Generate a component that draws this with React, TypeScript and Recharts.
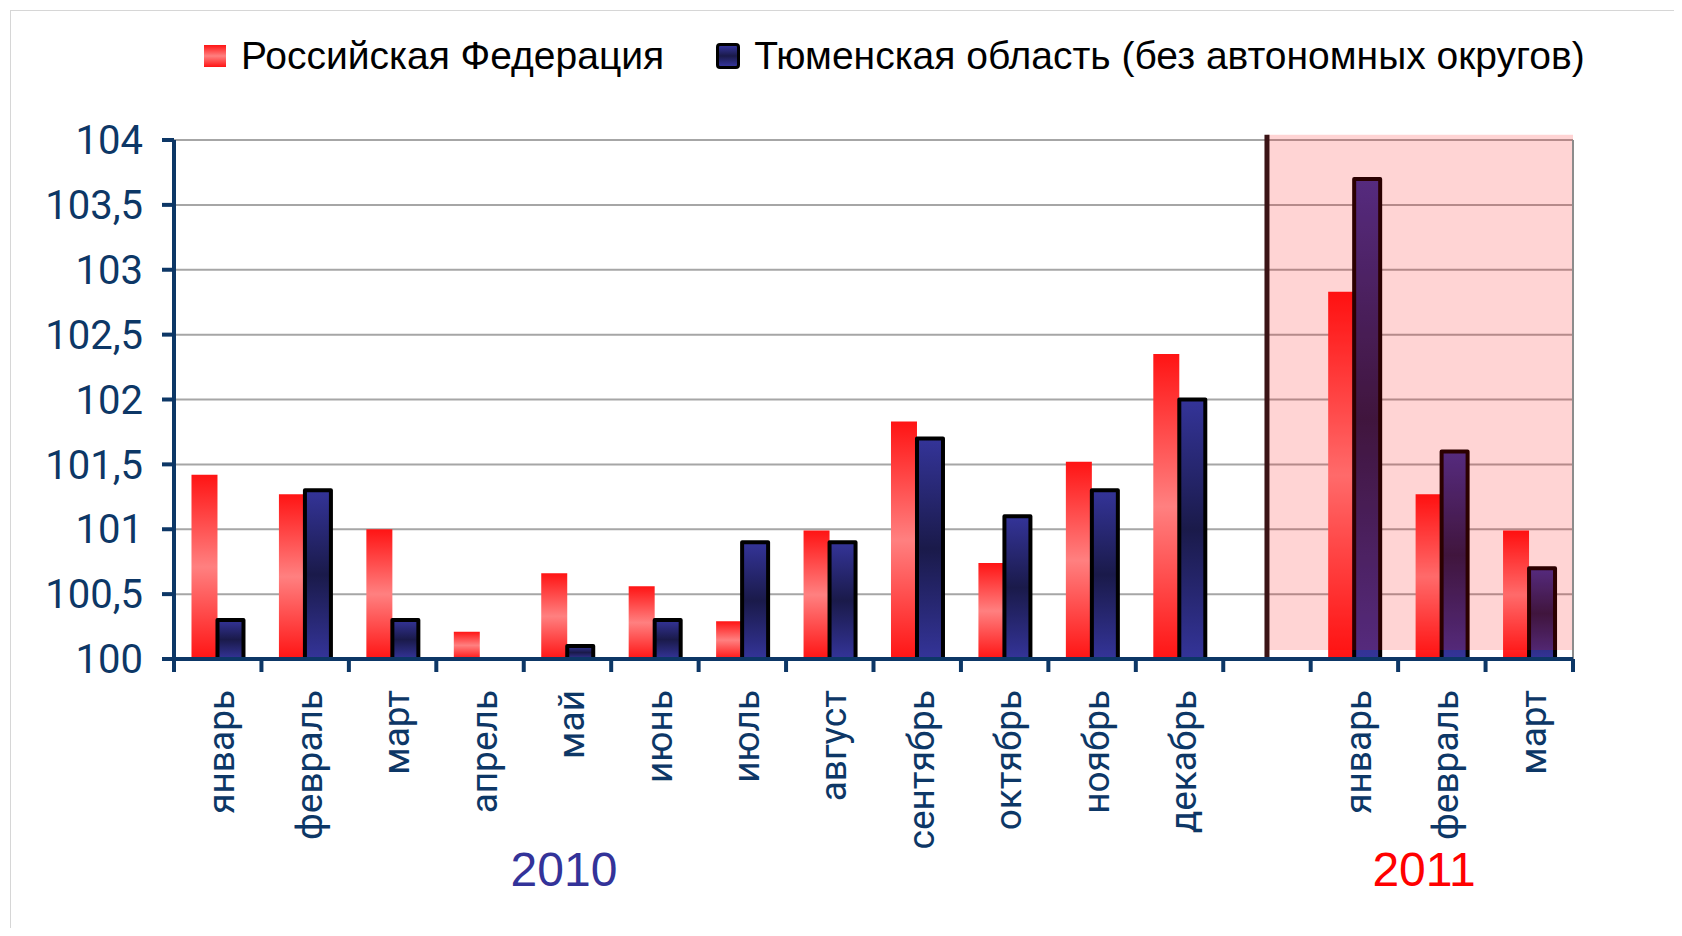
import {
  Bar,
  BarChart,
  CartesianGrid,
  ReferenceArea,
  ReferenceLine,
  XAxis,
  YAxis,
} from 'recharts'

const months2010 = [
  'январь', 'февраль', 'март', 'апрель', 'май', 'июнь',
  'июль', 'август', 'сентябрь', 'октябрь', 'ноябрь', 'декабрь',
]
const months2011 = ['январь', 'февраль', 'март']

const russia2010 = [101.42, 101.27, 101.0, 100.21, 100.66, 100.56, 100.29, 100.99, 101.83, 100.74, 101.52, 102.35]
const tyumen2010 = [100.3, 101.3, 100.3, null, 100.1, 100.3, 100.9, 100.9, 101.7, 101.1, 101.3, 102.0]
const russia2011 = [102.83, 101.27, 100.99]
const tyumen2011 = [103.7, 101.6, 100.7]

const yTicks = [100, 100.5, 101, 101.5, 102, 102.5, 103, 103.5, 104]

const NAVY = '#0d3766'

const data = [
  ...months2010.map((m, i) => ({ key: `a${i}`, label: m, rf: russia2010[i], to: tyumen2010[i] })),
  { key: 'gap', label: '', rf: null, to: null },
  ...months2011.map((m, i) => ({ key: `b${i}`, label: m, rf: russia2011[i], to: tyumen2011[i] })),
].map((d, i) => ({ ...d, idx: i + 0.5 }))

// category boundaries (for tick marks on the numeric helper axis)
const boundaries = Array.from({ length: data.length + 1 }, (_, i) => i)
const yearSplit = 12.5

function MonthTick(props: any) {
  const { x, y, payload } = props
  const label = data[payload.index]?.label ?? ''
  return (
    <text
      x={x}
      y={y}
      transform={`rotate(-90 ${x} ${y})`}
      textAnchor="end"
      dy="0.45em"
      fill={NAVY}
      fontSize={37}
      fontFamily="Roboto, sans-serif"
    >
      {label}
    </text>
  )
}

export default function App() {
  return (
    <div style={{ position: 'relative', width: 1682, height: 936, margin: -8, background: '#fff' }}>
      <div
        style={{
          position: 'absolute', left: 10, top: 10, right: 0, bottom: 0,
          borderLeft: '1px solid #d6d6d6', borderTop: '1px solid #d6d6d6',
        }}
      />
      <BarChart
        width={1682}
        height={936}
        data={data}
        margin={{ top: 140, right: 109, left: 0, bottom: 0 }}
        barCategoryGap="20%"
        barGap={0}
      >
        <defs>
          <linearGradient id="rfGrad" x1="0" y1="0" x2="0" y2="1">
            <stop offset="0%" stopColor="#ff1414" />
            <stop offset="50%" stopColor="#ff8080" />
            <stop offset="100%" stopColor="#ff1414" />
          </linearGradient>
          <linearGradient id="toGrad" x1="0" y1="0" x2="0" y2="1">
            <stop offset="0%" stopColor="#343499" />
            <stop offset="50%" stopColor="#1a1a4a" />
            <stop offset="100%" stopColor="#343499" />
          </linearGradient>
        </defs>
        <CartesianGrid stroke="#a6a6a6" strokeWidth={2} vertical={false} />
        <XAxis
          dataKey="key"
          interval={0}
          tick={<MonthTick />}
          tickLine={false}
          tickSize={0}
          tickMargin={31}
          height={277}
          axisLine={{ stroke: NAVY, strokeWidth: 4 }}
        />
        <XAxis
          xAxisId="n"
          dataKey="idx"
          type="number"
          domain={[0, data.length]}
          allowDataOverflow
          hide
        />
        <YAxis
          domain={[100, 104]}
          ticks={yTicks}
          allowDataOverflow
          width={174}
          tickSize={12}
          tickMargin={19}
          tickFormatter={(v) => String(v).replace('.', ',')}
          tick={{ fill: NAVY, fontSize: 40, fontFamily: 'Roboto, sans-serif' }}
          tickLine={{ stroke: NAVY, strokeWidth: 4 }}
          axisLine={{ stroke: NAVY, strokeWidth: 4 }}
        />
        <ReferenceLine xAxisId="n" x={data.length} stroke="#8c8c8c" strokeWidth={2} />
        <Bar dataKey="rf" fill="url(#rfGrad)" isAnimationActive={false} />
        <Bar
          dataKey="to"
          fill="url(#toGrad)"
          stroke="#000"
          strokeWidth={4}
          strokeLinejoin="round"
          isAnimationActive={false}
        />
        <ReferenceArea
          xAxisId="n"
          x1={yearSplit}
          x2={data.length}
          y1={100.07}
          y2={104.04}
          fill="#ff0000"
          fillOpacity={0.17}
          stroke="none"
          ifOverflow="visible"
          zIndex={350}
        />
        <ReferenceLine
          xAxisId="n"
          segment={[{ x: yearSplit, y: 100 }, { x: yearSplit, y: 104.04 }]}
          stroke="#3b1416"
          strokeWidth={5}
          ifOverflow="visible"
          zIndex={360}
        />
        {boundaries.map((b) => (
          <ReferenceLine
            key={b}
            xAxisId="n"
            segment={[{ x: b, y: 100 }, { x: b, y: 99.9 }]}
            stroke={NAVY}
            strokeWidth={4}
            ifOverflow="visible"
          />
        ))}
      </BarChart>

      <div
        style={{
          position: 'absolute', left: 204, top: 34, display: 'flex', alignItems: 'center',
          fontFamily: '"Liberation Sans", Arial, sans-serif', fontSize: 39, color: '#000',
          whiteSpace: 'nowrap',
        }}
      >
        <span style={{ width: 22, height: 22, background: 'linear-gradient(#ff1414, #ff8080 50%, #ff1414)', marginRight: 15 }} />
        <span>Российская Федерация</span>
        <span
          style={{
            width: 18, height: 20, marginLeft: 52, marginRight: 14,
            background: 'linear-gradient(#343499, #1a1a4a 50%, #343499)',
            border: '3px solid #000', borderRadius: 4,
          }}
        />
        <span>Тюменская область (без автономных округов)</span>
      </div>

      <div
        style={{
          position: 'absolute', left: 564, top: 869, transform: 'translate(-50%, -50%)',
          fontFamily: '"Liberation Sans", Arial, sans-serif', fontSize: 48, color: '#333399',
        }}
      >
        2010
      </div>
      <div
        style={{
          position: 'absolute', left: 1424, top: 869, transform: 'translate(-50%, -50%)',
          fontFamily: '"Liberation Sans", Arial, sans-serif', fontSize: 48, color: '#ff0000',
        }}
      >
        2011
      </div>
    </div>
  )
}
